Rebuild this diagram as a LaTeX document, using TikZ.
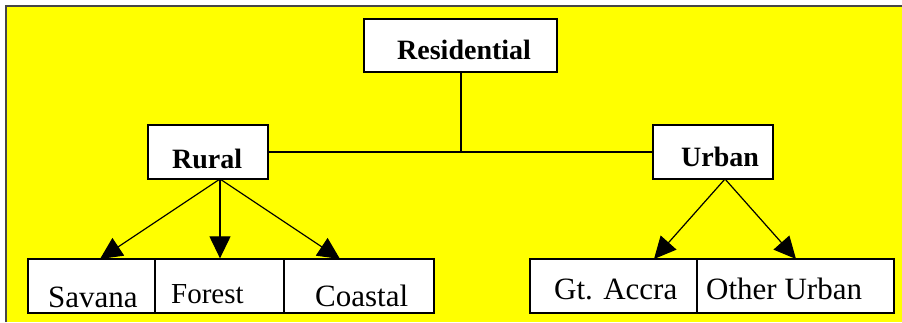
\documentclass[tikz,border=0pt]{standalone}
\usepackage{fontspec}
\setmainfont{Liberation Serif}
\usetikzlibrary{arrows.meta,backgrounds}
\definecolor{ylw}{RGB}{255,255,0}
\definecolor{frm}{RGB}{70,70,70}
\tikzset{
  box/.style={draw=black, fill=white, line width=1.3pt, rectangle, inner sep=0pt},
  conn/.style={draw=black, line width=1.2pt},
  arr/.style={conn, -{Triangle[length=22pt,width=21pt]}},
  btxt/.style={anchor=base west, inner sep=0pt, font=\fontsize{28}{30}\selectfont\bfseries},
  rtxt/.style={anchor=base west, inner sep=0pt, font=\fontsize{31}{33}\selectfont},
}
\begin{document}
\begin{tikzpicture}[x=1pt,y=-1pt]
\useasboundingbox (0,0) rectangle (902,322);
% boxes
\node[box, minimum width=193pt, minimum height=53pt] (res) at (460.5,45.5) {};
\node[box, minimum width=120pt, minimum height=54pt] (rural) at (208,152) {};
\node[box, minimum width=120pt, minimum height=54pt] (urban) at (713,152) {};
\node[box, minimum width=127pt, minimum height=54pt] (sav) at (91.5,286) {};
\node[box, minimum width=129pt, minimum height=54pt] (for) at (219.5,286) {};
\node[box, minimum width=150pt, minimum height=54pt] (coa) at (359,286) {};
\node[box, minimum width=167pt, minimum height=54pt] (acc) at (613.5,286) {};
\node[box, minimum width=197pt, minimum height=54pt] (oth) at (795.5,286) {};
% texts
\node[btxt] (tres) at (397,59) {Residential};
\node[btxt] (trur) at (172,168) {Rural};
\node[btxt] (turb) at (681,166) {Urban};
\node[rtxt] (tsav) at (48,307) {Savana};
\node[rtxt, font=\fontsize{29}{31}\selectfont] (tfor) at (171,303) {Forest};
\node[rtxt] (tcoa) at (315,306) {Coastal};
\node[rtxt] (tacc) at (554,299) {Gt. Accra};
\node[rtxt] (toth) at (706,299) {Other Urban};
% connector end points
\coordinate (rs) at (220,179);
\coordinate (us) at (725,179);
\coordinate (savt) at (100,259);
\coordinate (coat) at (340,259);
\coordinate (acct) at (654,259);
\coordinate (otht) at (796,259);
\coordinate (resb) at (461,72);
\begin{scope}[on background layer]
  \fill[ylw] (6,6) rectangle (902,322);
  \draw[frm, line width=1.5pt] (6,322) -- (6,6) -- (902,6);
  \draw[conn] (resb) -- (resb |- rural.east);
  \draw[conn] (rural.east) -- (urban.west);
  \draw[arr] (rs) -- (savt);
  \draw[arr] (rs) -- (rs |- for.north);
  \draw[arr] (rs) -- (coat);
  \draw[arr] (us) -- (acct);
  \draw[arr] (us) -- (otht);
\end{scope}
\end{tikzpicture}
\end{document}
